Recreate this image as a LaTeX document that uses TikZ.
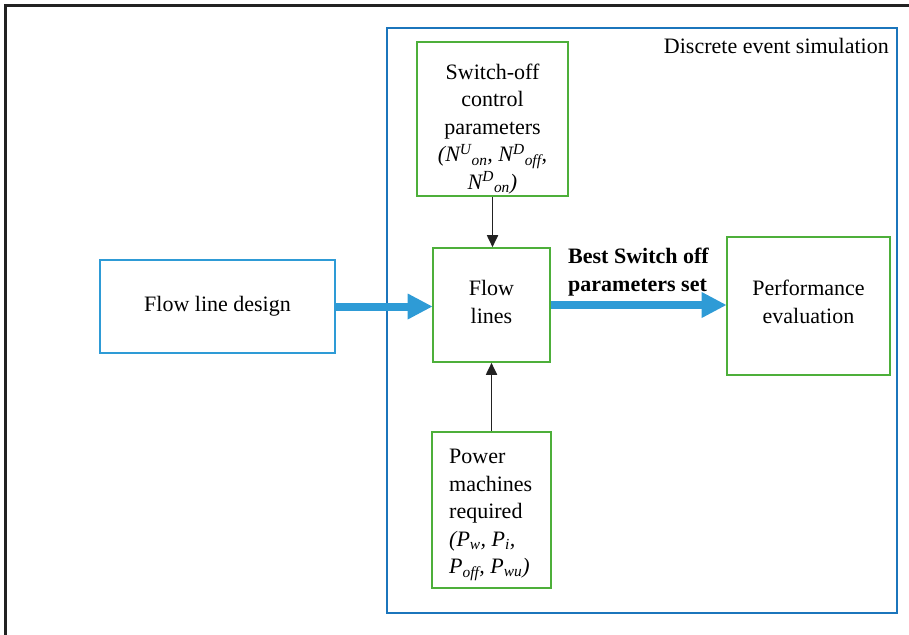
\documentclass[tikz,border=0pt]{standalone}
\usepackage{fontspec}
\setmainfont{Liberation Serif}
\usepackage{xcolor}
\usepackage{tikz}
\usetikzlibrary{shapes.geometric, arrows, arrows.meta}
\definecolor{framegray}{HTML}{222222}
\definecolor{desblue}{HTML}{1B75BC}
\definecolor{boxgreen}{HTML}{4DAF3A}
\definecolor{lightblue}{HTML}{2E9BD6}
\tikzstyle{greenbox} = [draw=boxgreen, line width=1.6pt, align=center, inner sep=0pt]
\tikzstyle{bluebox} = [draw=lightblue, line width=1.6pt, align=center, inner sep=0pt]
\tikzstyle{boxtext} = [align=center, inner sep=0pt]
\tikzstyle{arrow} = [line width=1.8pt, draw=framegray, -{Triangle[length=12pt,width=11pt]}]
\tikzstyle{fatarrow} = [line width=8pt, draw=lightblue, -{Triangle[length=25pt,width=24pt]}, shorten >=-0.5pt]

\begin{document}
\begin{tikzpicture}[x=1pt,y=-1pt,font=\fontsize{22}{27.5}\selectfont]
	\useasboundingbox (0,0) rectangle (909,634);
	\begin{scope}
		\clip (0,0) rectangle (909,634);
		% Outer frame (cropped at the right and the bottom)
		\draw [framegray, line width=3pt] (5,640) -- (5,6) -- (915,6);
	\end{scope}
	
	% Discrete event simulation:
	\node [draw=desblue, line width=2pt, minimum width=510pt, minimum height=585pt, inner sep=0pt] (des) at (642,320.5) {};
	\node [anchor=base east, inner sep=0pt] (destitle) at (889,53) {Discrete event simulation};
	
	% Boxes:
	\node [greenbox, minimum width=151pt, minimum height=154pt] (switchoff) at (492.5,119) {};
	\node [boxtext] (switchofftext) at (492.5,129) {Switch-off\\control\\parameters\\\textit{(N\textsuperscript{U}\textsubscript{on}, N\textsuperscript{D}\textsubscript{off},}\\\textit{N\textsuperscript{D}\textsubscript{on})}};
	\node [greenbox, minimum width=117pt, minimum height=114pt] (flowlines) at (491.5,305) {};
	\node [boxtext] (flowlinestext) at (491.5,302) {Flow\\lines};
	\node [greenbox, minimum width=119pt, minimum height=156pt] (power) at (491.5,510) {};
	\node [align=left, anchor=west, inner sep=0pt] (powertext) at (449,515) {Power\\machines\\required\\\textit{(P\textsubscript{w}, P\textsubscript{i},}\\\textit{P\textsubscript{off}, P\textsubscript{wu})}};
	\node [greenbox, minimum width=163pt, minimum height=138pt] (perf) at (808.5,306) {};
	\node [boxtext] (perftext) at (808.5,302) {Performance\\evaluation};
	\node [bluebox, minimum width=235pt, minimum height=93pt] (design) at (217.5,306.5) {Flow line design};
	\node [anchor=base west, align=left, inner sep=0pt, font=\fontsize{22}{27.5}\selectfont\bfseries] (bestlabel) at (568,291) {Best Switch off\\parameters set};
	
	% Connectors:
	\draw [arrow] (switchoff.south) -- (switchoff.south |- flowlines.north);
	\draw [arrow] (power.north) -- (flowlines.south);
	\draw [fatarrow] (design.east) -- (flowlines.west |- design.east);
	\draw [fatarrow] (flowlines.east) -- (perf.west |- flowlines.east);
	
\end{tikzpicture}
\end{document}
